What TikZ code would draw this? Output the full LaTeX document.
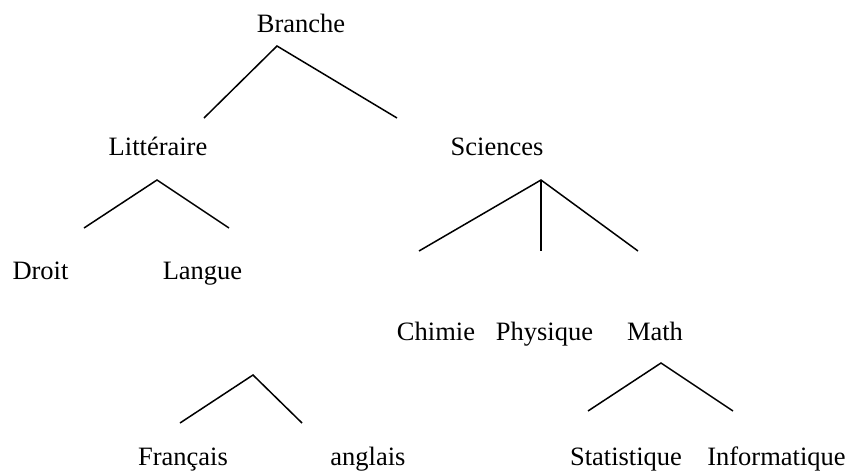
\documentclass[tikz,border=0pt]{standalone}
\usepackage{fontspec}
\setmainfont{Liberation Serif}
\begin{document}
\begin{tikzpicture}[x=1pt,y=-1pt,
  lbl/.style={anchor=base,inner sep=0pt,font=\fontsize{26.5}{30}\selectfont},
  edge/.style={line width=1.5pt,line cap=butt,line join=miter}]
\useasboundingbox (0,0) rectangle (852,474);
% labels
\node[lbl] (branche) at (301,32) {Branche};
\node[lbl] (litt) at (158,155) {Littéraire};
\node[lbl] (sci) at (497,155) {Sciences};
\node[lbl] (droit) at (40.5,279) {Droit};
\node[lbl] (langue) at (202.5,279) {Langue};
\node[lbl] (chimie) at (436,340) {Chimie};
\node[lbl] (phys) at (544.5,340) {Physique};
\node[lbl] (math) at (655,340) {Math};
\node[lbl] (fr) at (183,465) {Français};
\node[lbl] (en) at (368,465) {anglais};
\node[lbl] (stat) at (626,465) {Statistique};
\node[lbl] (info) at (776.5,465) {Informatique};
% branch points
\coordinate (bA) at (277,46);
\coordinate (bL) at (204,118);
\coordinate (bR) at (397,118);
\coordinate (lA) at (157,180);
\coordinate (lL) at (84,228);
\coordinate (lR) at (229,228);
\coordinate (sA) at (541,180);
\coordinate (sL) at (419,251);
\coordinate (sM) at (541,251);
\coordinate (sR) at (638,251);
\coordinate (gA) at (253,375);
\coordinate (gL) at (180,423);
\coordinate (gR) at (302,423);
\coordinate (mA) at (661,363);
\coordinate (mL) at (588,411);
\coordinate (mR) at (733,411);
% connectors
\draw[edge] (bL) -- (bA) -- (bR);
\draw[edge] (lL) -- (lA) -- (lR);
\draw[edge] (sL) -- (sA) -- (sR);
\draw[edge] (sA) -- (sM);
\draw[edge] (gL) -- (gA) -- (gR);
\draw[edge] (mL) -- (mA) -- (mR);
\end{tikzpicture}
\end{document}
